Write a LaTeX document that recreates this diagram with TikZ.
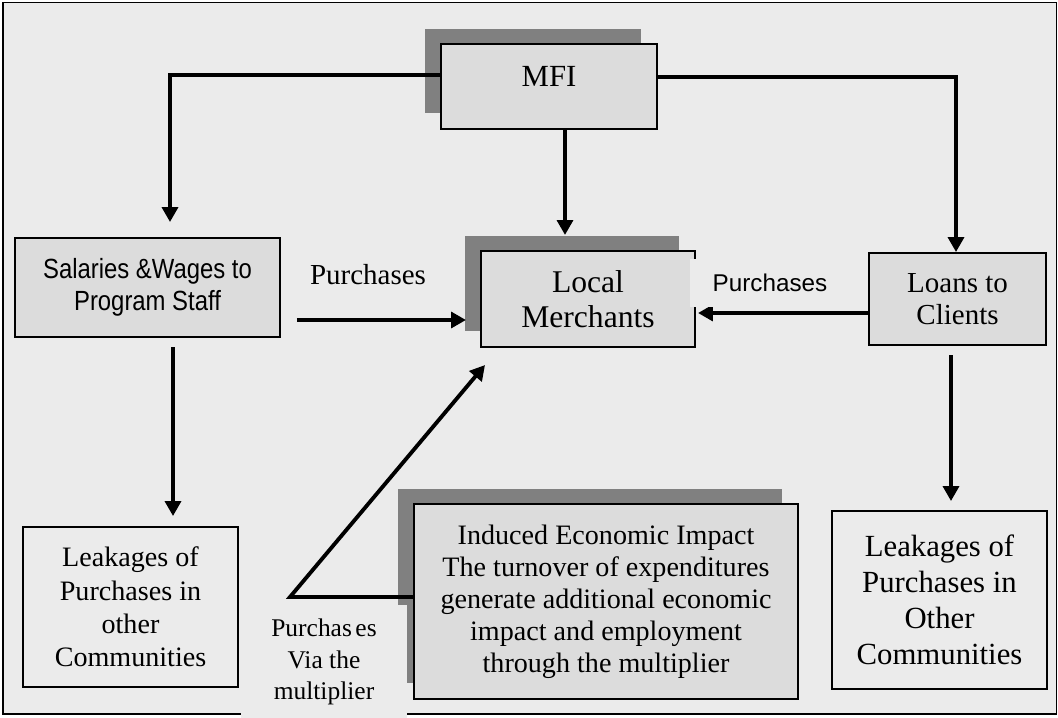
\documentclass[tikz,border=0pt]{standalone}
\usepackage{fontspec}
\setmainfont{Liberation Serif}
\newfontfamily\narrowsans[FakeStretch=0.86]{Liberation Sans}
\newfontfamily\plainsans{Liberation Sans}
\usetikzlibrary{arrows.meta,shadows}
\definecolor{bggray}{HTML}{EBEBEB}
\definecolor{boxgray}{HTML}{DCDCDC}
\definecolor{shadegray}{HTML}{808080}

\begin{document}
\begin{tikzpicture}[x=0.02cm, y=-0.02cm, >={Triangle[width=9pt,length=8.5pt]},
	flow/.style={->, line width=2.2pt},
	box/.style={draw, line width=1.1pt, fill=boxgray, align=center, inner sep=0pt},
	plainbox/.style={draw, line width=1.1pt, align=center, inner sep=0pt},
	shade/.style={drop shadow={shadow xshift=-0.32cm, shadow yshift=0.31cm, opacity=1, fill=shadegray}},
	tag/.style={fill=bggray, align=center, inner sep=0pt}]

		\useasboundingbox (0,0) rectangle (1058,717);
		\draw [line width=1.1pt, fill=bggray] (3,2.5) rectangle (1056.5,714);

		\node [box, shade, minimum width=4.32cm, minimum height=1.70cm, text depth=0.4cm,
			font=\fontsize{17.5}{20}\selectfont] (MFI) at (549,86.5) {MFI};
		\node [box, minimum width=5.30cm, minimum height=1.98cm,
			font=\narrowsans\fontsize{15.8}{18}\selectfont] (SW) at (147.5,287.5) {Salaries \&Wages to\\Program Staff};
		\node [box, shade, minimum width=4.28cm, minimum height=1.92cm,
			font=\fontsize{18}{20}\selectfont] (LM) at (588,299) {Local\\Merchants};
		\node [box, minimum width=3.54cm, minimum height=1.84cm,
			font=\fontsize{16.5}{18}\selectfont] (LC) at (957.5,299) {Loans to\\Clients};
		\node [plainbox, minimum width=4.30cm, minimum height=3.20cm,
			font=\fontsize{16}{19}\selectfont] (LL) at (130.5,607) {Leakages of\\Purchases in\\other\\Communities};
		\node [plainbox, minimum width=4.30cm, minimum height=3.56cm,
			font=\fontsize{17.5}{20.5}\selectfont] (LR) at (939.5,600) {Leakages of\\Purchases in\\Other\\Communities};
		\node [box, shade, minimum width=7.68cm, minimum height=3.90cm,
			font=\fontsize{16}{18.2}\selectfont] (IE) at (606,601.5) {Induced Economic Impact\\The turnover of expenditures\\generate additional economic\\impact and employment\\through the multiplier};

		\coordinate (L) at (170,75);
		\coordinate (R) at (956,77);
		\coordinate (D) at (565,235);
		\coordinate (P1) at (466,320);
		\coordinate (P2) at (698,313);
		\coordinate (S) at (173,347);
		\coordinate (T) at (951,355);
		\coordinate (B) at (290,597);
		\coordinate (U) at (485,365);

		\draw [flow, shorten >=0.3cm] (MFI.west |- L) -- (L) -- (L |- SW.north);
		\draw [flow] (MFI.east |- R) -- (R) -- (R |- LC.north);
		\draw [flow] (MFI.south -| D) -- (D);
		\draw [flow, shorten <=0.32cm] (SW.east |- P1) -- (P1);
		\draw [flow] (LC.west |- P2) -- (P2);
		\draw [flow, shorten >=0.2cm] (S) -- (S |- LL.north);
		\draw [flow, shorten >=0.18cm] (T) -- (T |- LR.north);
		\draw [flow] (IE.west |- B) -- (B) -- (U);

		\node [tag, font=\fontsize{16.5}{18}\selectfont] (PL) at (368,275) {Purchases};
		\node [tag, minimum width=3.2cm, minimum height=0.96cm,
			font=\plainsans\fontsize{13.8}{16}\selectfont] (PR) at (770,283) {Purchases};
		\node [tag, minimum width=3.32cm, minimum height=2.3cm,
			font=\fontsize{14.5}{18}\selectfont] (PM) at (324,662) {Purchas\kern2pt es\\Via the\\multiplier};

\end{tikzpicture}
\end{document}
